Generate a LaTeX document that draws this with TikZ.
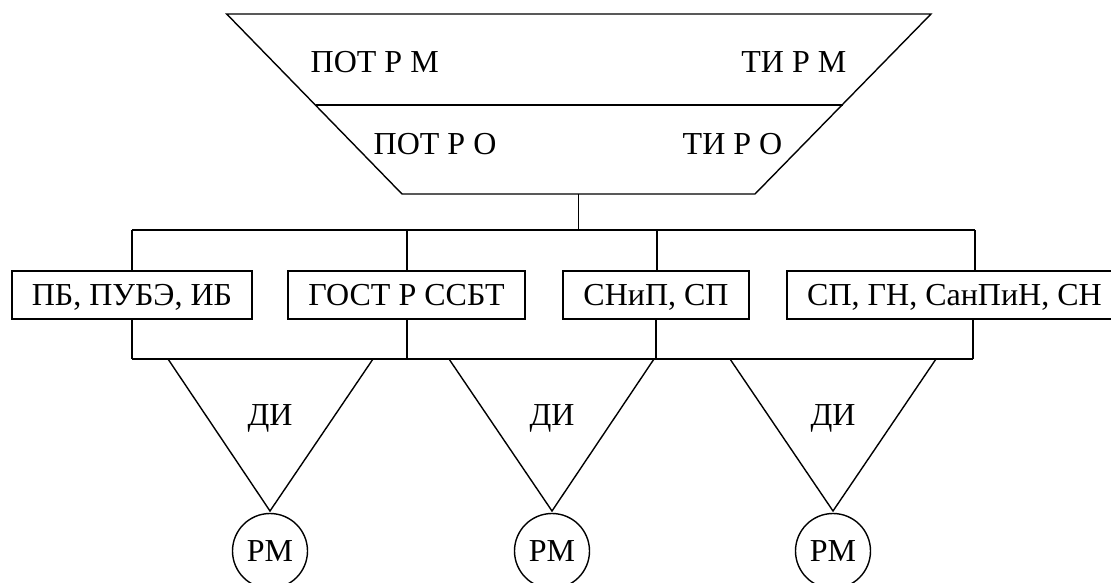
\documentclass[tikz,border=0pt]{standalone}
\usepackage{fontspec}
\setmainfont{Liberation Serif}
\begin{document}
\begin{tikzpicture}[x=1pt,y=-1pt,line width=1.4pt,
  lbl/.style={font=\fontsize{32}{38}\selectfont, inner sep=0pt},
  stdbox/.style={draw, lbl, minimum height=48pt, text height=21pt, text depth=0pt},
  rmnode/.style={draw, circle, lbl, minimum size=75pt, text height=21pt, text depth=0pt},
  edge/.style={line width=1.4pt}]
\useasboundingbox (0,0) rectangle (1111,583);
\clip (0,0) rectangle (1111,583);
% trapezoid
\coordinate (tl) at (226.7,14);
\coordinate (tr) at (931,14);
\coordinate (br) at (755,194);
\coordinate (bl) at (402,194);
\coordinate (ml) at (315.5,105);
\coordinate (mr) at (842.5,105);
\draw[edge] (tl) -- (tr) -- (br) -- (bl) -- cycle;
\draw[edge] (ml) -- (mr);
\node[lbl, anchor=base west] (potrm) at (310,73) {ПОТ Р М};
\node[lbl, anchor=base east] (tirm) at (847,73) {ТИ Р М};
\node[lbl, anchor=base west] (potro) at (373,154) {ПОТ Р О};
\node[lbl, anchor=base east] (tiro) at (783,154) {ТИ Р О};
% boxes
\node[stdbox, minimum width=240pt] (b1) at (132,295) {ПБ, ПУБЭ, ИБ};
\node[stdbox, minimum width=237pt] (b2) at (406.5,295) {ГОСТ Р ССБТ};
\node[stdbox, minimum width=186pt] (b3) at (656,295) {СНиП, СП};
\node[stdbox, minimum width=335pt] (b4) at (954.5,295) {СП, ГН, СанПиН, СН};
% upper bus
\coordinate (stem) at (578.5,194);
\coordinate (ub) at (578.5,230);
\coordinate (u1) at (132,230);
\coordinate (u2) at (407,230);
\coordinate (u3) at (657,230);
\coordinate (u4) at (975,230);
\draw[edge] (stem) -- (ub);
\draw[edge] (u1) -- (u4);
\draw[edge] (u1) -- (u1 |- b1.north);
\draw[edge] (u2) -- (u2 |- b2.north);
\draw[edge] (u3) -- (u3 |- b3.north);
\draw[edge] (u4) -- (u4 |- b4.north);
% lower bus
\coordinate (l1) at (132,359);
\coordinate (l2) at (407,359);
\coordinate (l3) at (656,359);
\coordinate (l4) at (973,359);
\draw[edge] (l1) -- (l4);
\draw[edge] (l1 |- b1.south) -- (l1);
\draw[edge] (l2 |- b2.south) -- (l2);
\draw[edge] (l3 |- b3.south) -- (l3);
\draw[edge] (l4 |- b4.south) -- (l4);
% triangles
\coordinate (t1l) at (168,359); \coordinate (t1r) at (373,359); \coordinate (a1) at (270,511);
\coordinate (t2l) at (449,359); \coordinate (t2r) at (654,359); \coordinate (a2) at (552,511);
\coordinate (t3l) at (730,359); \coordinate (t3r) at (936,359); \coordinate (a3) at (833,511);
\draw[edge] (t1l) -- (a1) -- (t1r);
\draw[edge] (t2l) -- (a2) -- (t2r);
\draw[edge] (t3l) -- (a3) -- (t3r);
\node[lbl, anchor=base] (di1) at (270,425) {ДИ};
\node[lbl, anchor=base] (di2) at (552,425) {ДИ};
\node[lbl, anchor=base] (di3) at (833,425) {ДИ};
% circles
\node[rmnode] (rm1) at (270,551) {РМ};
\node[rmnode] (rm2) at (552,551) {РМ};
\node[rmnode] (rm3) at (833,551) {РМ};
\end{tikzpicture}
\end{document}
